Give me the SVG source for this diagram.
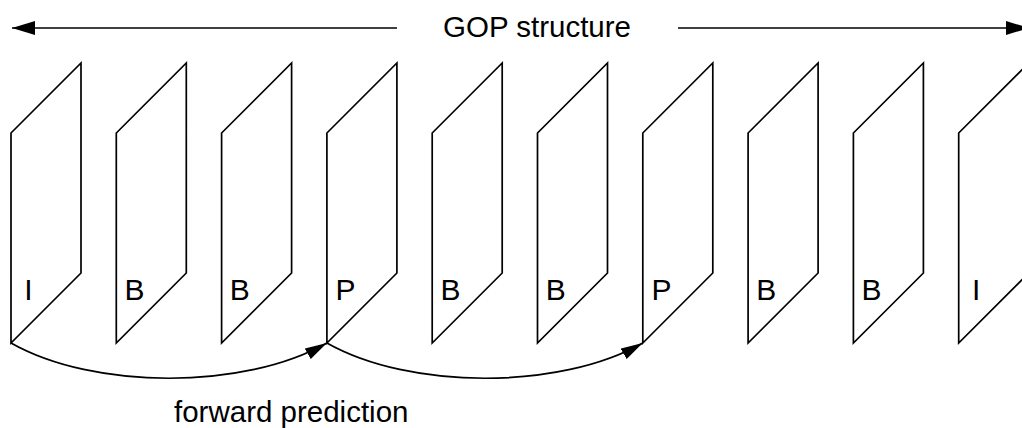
<svg xmlns="http://www.w3.org/2000/svg" width="1022" height="428" viewBox="0 0 1022 428">
  <style>
    .frame { fill: none; stroke: #000; stroke-width: 1.7; stroke-linejoin: miter; }
    .conn { fill: none; stroke: #000; stroke-width: 1.7; }
    .lbl { font-family: "Liberation Sans", Arial, sans-serif; font-size: 29.5px; fill: #000; }
    .flbl { font-family: "Liberation Sans", Arial, sans-serif; font-size: 30px; fill: #000; text-anchor: middle; }
  </style>
  <defs>
    <marker id="arrEnd" viewBox="0 0 23 14" refX="23" refY="7" markerWidth="23" markerHeight="14" markerUnits="userSpaceOnUse" orient="auto">
      <path d="M0,0 L23,7 L0,14 Z" fill="#000"/>
    </marker>
    <marker id="arrStart" viewBox="0 0 23 14" refX="0" refY="7" markerWidth="23" markerHeight="14" markerUnits="userSpaceOnUse" orient="auto">
      <path d="M23,0 L0,7 L23,14 Z" fill="#000"/>
    </marker>
    <marker id="arrCurve" viewBox="0 0 22 12" refX="22" refY="6" markerWidth="22" markerHeight="12" markerUnits="userSpaceOnUse" orient="auto">
      <path d="M0,0 L22,6 L0,12 Z" fill="#000"/>
    </marker>
  </defs>

  <g id="gop-label">
    <text class="lbl" x="443" y="37">GOP structure</text>
  </g>

  <g id="frame-1">
    <path class="frame" d="M11,343 L11,133 L81,63 L81,273 Z"/>
    <text class="flbl" x="28.5" y="300">I</text>
  </g>
  <g id="frame-2">
    <path class="frame" d="M116.3,343 L116.3,133 L186.3,63 L186.3,273 Z"/>
    <text class="flbl" x="134.5" y="300">B</text>
  </g>
  <g id="frame-3">
    <path class="frame" d="M221.6,343 L221.6,133 L291.6,63 L291.6,273 Z"/>
    <text class="flbl" x="239.8" y="300">B</text>
  </g>
  <g id="frame-4">
    <path class="frame" d="M326.9,343 L326.9,133 L396.9,63 L396.9,273 Z"/>
    <text class="flbl" x="345.5" y="300">P</text>
  </g>
  <g id="frame-5">
    <path class="frame" d="M432.2,343 L432.2,133 L502.2,63 L502.2,273 Z"/>
    <text class="flbl" x="450.4" y="300">B</text>
  </g>
  <g id="frame-6">
    <path class="frame" d="M537.5,343 L537.5,133 L607.5,63 L607.5,273 Z"/>
    <text class="flbl" x="555.7" y="300">B</text>
  </g>
  <g id="frame-7">
    <path class="frame" d="M642.8,343 L642.8,133 L712.8,63 L712.8,273 Z"/>
    <text class="flbl" x="661.4" y="300">P</text>
  </g>
  <g id="frame-8">
    <path class="frame" d="M748.1,343 L748.1,133 L818.1,63 L818.1,273 Z"/>
    <text class="flbl" x="766.3" y="300">B</text>
  </g>
  <g id="frame-9">
    <path class="frame" d="M853.4,343 L853.4,133 L923.4,63 L923.4,273 Z"/>
    <text class="flbl" x="871.6" y="300">B</text>
  </g>
  <g id="frame-10">
    <path class="frame" d="M958.7,343 L958.7,133 L1028.7,63 L1028.7,273 Z"/>
    <text class="flbl" x="976.2" y="300">I</text>
  </g>

  <g id="prediction-label">
    <text class="lbl" x="174" y="422">forward prediction</text>
  </g>

  <g id="connectors">
    <line class="conn" x1="12" y1="28" x2="397" y2="28" marker-start="url(#arrStart)"/>
    <line class="conn" x1="678" y1="28" x2="1029" y2="28" marker-end="url(#arrEnd)"/>
    <path class="conn" d="M11,343 C94,390 244,390 326.9,343" marker-end="url(#arrCurve)"/>
    <path class="conn" d="M326.9,343 C410,390 560,390 642.8,343" marker-end="url(#arrCurve)"/>
  </g>
</svg>
